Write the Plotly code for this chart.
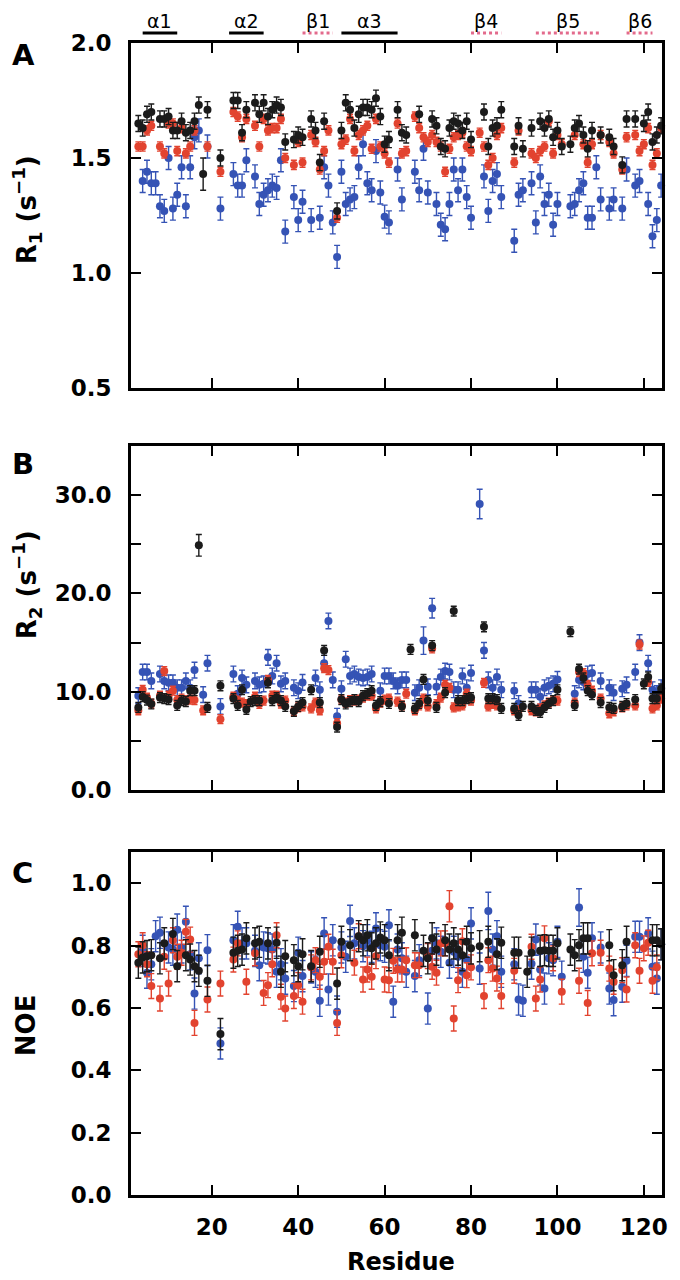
import plotly.graph_objects as go

# ---------------- data (residue, value) ----------------
R1_BLACK = [(3,1.65),(4,1.63),(5,1.69),(6,1.70),(8,1.67),(9,1.67),(10,1.68),(11,1.62),(12,1.62),(13,1.66),
            (14,1.61),(15,1.62),(16,1.66),(17,1.73),(18,1.43),(19,1.71),(22,1.50),(25,1.75),(26,1.75),(27,1.61),
            (28,1.71),(30,1.74),(31,1.69),(32,1.74),(33,1.68),(34,1.71),(35,1.73),(36,1.72),(37,1.57),(39,1.58),
            (40,1.60),(41,1.59),(43,1.67),(44,1.62),(45,1.48),(46,1.66),(49,1.27),(50,1.62),(51,1.74),(52,1.71),
            (53,1.63),(54,1.69),(55,1.72),(56,1.72),(57,1.71),(58,1.76),(59,1.68),(60,1.56),(61,1.58),(63,1.71),
            (64,1.61),(65,1.60),(68,1.69),(71,1.67),(72,1.64),(73,1.55),(74,1.54),(75,1.63),(76,1.66),(77,1.65),
            (78,1.62),(79,1.66),(80,1.58),(83,1.70),(84,1.55),(85,1.63),(86,1.64),(87,1.71),(90,1.55),(91,1.64),
            (92,1.54),(94,1.63),(96,1.66),(97,1.63),(98,1.67),(99,1.59),(100,1.62),(101,1.55),(103,1.56),(104,1.63),
            (105,1.65),(106,1.60),(107,1.54),(108,1.62),(110,1.60),(112,1.59),(113,1.55),(115,1.47),(116,1.67),
            (118,1.67),(120,1.65),(121,1.70),(122,1.57),(123,1.60),(124,1.64)]
R1_RED = [(3,1.55),(4,1.55),(5,1.62),(6,1.64),(8,1.55),(9,1.52),(10,1.65),(11,1.65),(12,1.53),(13,1.63),
          (14,1.52),(15,1.55),(16,1.62),(19,1.55),(22,1.44),(25,1.70),(26,1.68),(27,1.59),(28,1.67),(30,1.64),
          (31,1.55),(32,1.67),(33,1.62),(34,1.63),(35,1.63),(36,1.67),(37,1.50),(39,1.47),(40,1.57),(41,1.48),
          (43,1.60),(44,1.57),(45,1.45),(46,1.53),(47,1.62),(49,1.24),(50,1.56),(51,1.58),(52,1.67),(53,1.53),
          (54,1.60),(55,1.62),(56,1.64),(57,1.54),(58,1.67),(59,1.55),(60,1.52),(61,1.48),(63,1.65),(64,1.52),
          (65,1.53),(67,1.68),(68,1.63),(69,1.59),(70,1.57),(71,1.60),(72,1.57),(73,1.55),(74,1.44),(75,1.54),
          (76,1.59),(77,1.60),(78,1.61),(79,1.55),(80,1.53),(82,1.61),(83,1.55),(84,1.47),(85,1.50),(86,1.60),
          (87,1.63),(90,1.48),(91,1.62),(94,1.52),(95,1.50),(96,1.53),(97,1.55),(98,1.66),(99,1.52),(100,1.60),
          (101,1.56),(104,1.60),(106,1.56),(107,1.48),(108,1.56),(110,1.60),(112,1.57),(113,1.52),(115,1.45),
          (116,1.59),(118,1.60),(119,1.53),(120,1.56),(121,1.63),(122,1.47),(123,1.52),(124,1.63)]
R1_BLUE = [(4,1.40),(5,1.44),(6,1.39),(7,1.39),(8,1.29),(9,1.27),(10,1.50),(11,1.28),(12,1.34),(13,1.46),
           (14,1.29),(15,1.46),(16,1.59),(17,1.62),(19,1.55),(22,1.28),(25,1.43),(26,1.38),(27,1.38),(28,1.49),
           (30,1.42),(31,1.30),(32,1.34),(33,1.36),(34,1.38),(35,1.37),(36,1.49),(37,1.18),(39,1.33),(40,1.23),
           (41,1.31),(43,1.23),(45,1.24),(46,1.46),(47,1.38),(48,1.22),(49,1.07),(50,1.44),(51,1.30),(52,1.32),
           (53,1.33),(54,1.46),(55,1.56),(56,1.39),(57,1.36),(58,1.53),(59,1.35),(60,1.245),(61,1.22),(63,1.45),
           (64,1.32),(67,1.44),(68,1.36),(69,1.54),(70,1.35),(72,1.30),(73,1.21),(74,1.19),(75,1.30),(76,1.45),
           (77,1.36),(78,1.45),(79,1.33),(80,1.24),(83,1.42),(84,1.27),(85,1.40),(86,1.43),(87,1.33),(90,1.14),
           (91,1.34),(92,1.36),(94,1.39),(95,1.22),(96,1.42),(97,1.30),(98,1.34),(99,1.21),(100,1.30),(103,1.29),
           (104,1.30),(105,1.36),(106,1.39),(107,1.24),(108,1.24),(109,1.46),(110,1.32),(112,1.28),(113,1.32),
           (115,1.28),(116,1.45),(118,1.38),(119,1.40),(121,1.30),(122,1.16),(123,1.23),(124,1.38)]

R2_BLACK = [(3,8.4),(4,9.5),(5,9.15),(6,8.75),(8,9.4),(9,9.3),(10,9.2),(12,8.6),(13,9.1),(14,9.0),(15,10.1),
            (16,10.1),(17,24.9),(19,8.4),(22,10.6),(25,9.3),(26,8.6),(27,10.2),(28,8.2),(29,9.0),(30,9.1),(31,9.1),
            (33,10.9),(34,9.1),(35,9.4),(36,9.1),(37,8.5),(39,8.0),(40,8.5),(41,8.9),(43,10.2),(45,8.9),(46,14.2),
            (49,6.4),(50,9.2),(51,8.75),(52,9.0),(53,9.2),(54,9.0),(55,9.6),(56,9.8),(57,10.1),(58,8.6),(59,9.0),
            (61,8.8),(64,8.5),(66,14.3),(67,8.3),(68,8.8),(69,11.25),(70,9.1),(71,14.7),(72,8.4),(74,9.9),(76,18.2),
            (77,9.1),(78,9.1),(79,9.3),(80,9.4),(83,16.6),(84,9.3),(85,9.3),(86,9.2),(87,8.3),(90,8.3),(91,7.6),
            (92,8.5),(94,8.5),(95,8.1),(96,7.9),(97,8.4),(98,8.8),(99,9.1),(100,10.2),(103,16.1),(104,8.6),
            (105,12.3),(106,11.4),(107,10.1),(108,9.7),(110,8.9),(112,8.4),(113,8.3),(115,8.5),(116,8.8),(118,9.2),
            (120,10.8),(121,11.5),(122,9.3),(123,9.3),(124,10.3)]
R2_RED = [(3,8.1),(4,10.2),(5,9.4),(6,8.8),(8,9.6),(9,12.1),(10,9.6),(11,10.1),(12,9.15),(13,9.3),(14,9.15),
          (15,9.2),(16,9.15),(18,8.1),(22,7.2),(25,9.5),(26,9.1),(27,8.9),(28,8.75),(30,9.5),(31,8.75),(32,9.1),
          (33,11.2),(34,9.6),(35,9.6),(36,8.8),(37,9.1),(39,8.0),(40,8.4),(41,8.5),(43,8.3),(44,8.9),(45,8.1),
          (46,12.4),(47,12.2),(49,6.8),(50,9.2),(51,8.9),(52,9.15),(53,9.1),(54,9.2),(55,9.4),(56,9.6),(57,9.6),
          (58,8.3),(59,8.9),(60,9.2),(61,9.3),(63,9.0),(64,8.6),(65,9.8),(67,8.1),(68,8.6),(69,9.3),(70,8.5),
          (71,14.4),(72,8.75),(73,9.4),(74,10.7),(75,10.4),(76,8.4),(77,8.5),(78,8.6),(79,9.8),(80,9.1),(83,10.9),
          (84,8.5),(85,8.75),(86,8.6),(90,8.1),(91,8.1),(94,8.1),(95,8.0),(96,8.3),(97,8.6),(98,8.9),(99,9.1),
          (100,9.1),(104,8.9),(105,12.0),(106,11.9),(107,10.7),(108,10.1),(110,9.3),(112,7.8),(113,8.0),(115,8.4),
          (116,8.6),(118,8.6),(119,14.8),(121,11.0),(122,8.3),(123,8.6),(124,9.3)]
R2_BLUE = [(3,9.6),(4,12.0),(5,12.0),(6,11.1),(8,11.8),(9,11.1),(10,10.9),(11,10.9),(12,10.4),(13,10.4),
           (14,11.1),(15,10.4),(16,12.2),(18,9.7),(19,12.9),(22,8.5),(25,11.8),(26,9.8),(27,11.4),(28,10.7),
           (30,11.1),(31,10.7),(32,10.8),(33,13.5),(34,11.6),(35,12.9),(36,10.8),(37,11.1),(39,10.4),(40,10.1),
           (41,10.95),(44,11.4),(45,10.2),(46,12.9),(47,17.2),(48,11.2),(49,7.5),(50,10.3),(51,13.3),(52,11.6),
           (53,11.8),(54,11.5),(55,11.4),(56,11.5),(57,11.8),(59,10.1),(60,11.6),(61,11.6),(62,11.1),(63,10.6),
           (64,11.2),(65,11.2),(67,9.9),(68,10.4),(69,15.2),(70,10.5),(71,18.5),(72,10.5),(73,11.5),(74,12.1),
           (75,12.0),(76,10.2),(77,10.2),(78,11.6),(79,10.4),(80,11.9),(82,29.1),(83,14.2),(84,11.2),(85,10.4),
           (86,11.5),(87,10.2),(90,10.1),(91,8.8),(94,10.2),(95,10.2),(96,9.5),(97,10.4),(98,10.6),(99,10.8),
           (100,11.25),(104,9.8),(105,11.2),(106,11.0),(107,11.8),(108,11.9),(110,11.1),(112,10.4),(113,9.9),
           (115,10.3),(116,10.7),(118,12.0),(119,15.0),(121,12.9),(122,10.2),(123,9.8),(124,10.4)]

NOE_BLACK = [(3,0.745),(4,0.762),(5,0.766),(6,0.769),(8,0.759),(9,0.807),(11,0.837),(12,0.734),(14,0.769),
             (15,0.755),(16,0.734),(17,0.719),(19,0.687),(22,0.516),(25,0.777),(26,0.783),(27,0.787),(28,0.823),
             (30,0.807),(31,0.812),(33,0.807),(35,0.809),(36,0.716),(37,0.766),(39,0.753),(40,0.734),(41,0.772),
             (43,0.734),(45,0.780),(49,0.678),(50,0.812),(52,0.801),(54,0.830),(55,0.817),(56,0.833),(57,0.791),
             (58,0.807),(59,0.826),(60,0.817),(61,0.769),(63,0.817),(64,0.841),(67,0.833),(69,0.783),(70,0.759),
             (71,0.823),(72,0.787),(74,0.817),(75,0.787),(76,0.807),(77,0.787),(78,0.769),(79,0.812),(80,0.791),
             (82,0.798),(84,0.812),(86,0.772),(87,0.809),(90,0.777),(91,0.777),(93,0.716),(94,0.777),(96,0.783),
             (97,0.785),(98,0.783),(99,0.783),(100,0.807),(103,0.787),(104,0.769),(105,0.801),(106,0.823),
             (107,0.823),(112,0.801),(113,0.705),(115,0.737),(116,0.812),(122,0.817),(123,0.817),(124,0.804)]
NOE_RED = [(3,0.772),(4,0.801),(5,0.740),(6,0.670),(8,0.630),(9,0.764),(10,0.678),(11,0.817),(12,0.764),
           (13,0.777),(14,0.844),(15,0.819),(16,0.552),(19,0.627),(22,0.678),(25,0.755),(26,0.807),(28,0.684),
           (30,0.775),(32,0.648),(33,0.673),(34,0.740),(35,0.833),(36,0.636),(37,0.598),(39,0.638),(40,0.673),
           (41,0.620),(43,0.730),(44,0.753),(45,0.700),(46,0.748),(47,0.796),(48,0.748),(49,0.552),(50,0.769),
           (53,0.745),(54,0.830),(55,0.691),(56,0.723),(57,0.700),(58,0.766),(60,0.691),(61,0.689),(62,0.751),
           (63,0.723),(64,0.723),(65,0.753),(67,0.737),(68,0.737),(70,0.766),(71,0.732),(72,0.713),(73,0.807),
           (74,0.807),(75,0.926),(76,0.566),(77,0.689),(78,0.814),(79,0.705),(80,0.730),(83,0.638),(84,0.753),
           (85,0.726),(86,0.694),(87,0.638),(90,0.719),(94,0.796),(95,0.630),(96,0.691),(97,0.823),(99,0.759),
           (101,0.652),(105,0.687),(107,0.616),(108,0.775),(110,0.777),(112,0.726),(113,0.684),(115,0.721),
           (116,0.659),(118,0.801),(119,0.719),(120,0.791),(121,0.809),(122,0.687),(123,0.730)]
NOE_BLUE = [(4,0.783),(5,0.713),(6,0.740),(7,0.830),(8,0.841),(10,0.794),(11,0.787),(12,0.851),(13,0.794),
            (14,0.876),(15,0.772),(16,0.646),(17,0.759),(19,0.785),(22,0.486),(25,0.817),(26,0.860),(27,0.807),
            (28,0.807),(30,0.783),(31,0.737),(32,0.794),(33,0.791),(34,0.787),(35,0.716),(36,0.740),(37,0.694),
            (39,0.670),(40,0.777),(41,0.702),(43,0.730),(44,0.716),(45,0.623),(46,0.839),(47,0.659),(48,0.817),
            (49,0.588),(50,0.794),(51,0.764),(52,0.879),(53,0.807),(55,0.798),(56,0.817),(57,0.796),(58,0.855),
            (59,0.801),(60,0.796),(61,0.865),(62,0.620),(63,0.787),(64,0.759),(65,0.716),(67,0.702),(68,0.753),
            (70,0.598),(71,0.783),(72,0.807),(73,0.780),(75,0.745),(76,0.780),(77,0.764),(78,0.716),(79,0.755),
            (80,0.871),(82,0.726),(84,0.911),(85,0.787),(86,0.830),(87,0.716),(90,0.740),(91,0.627),(92,0.623),
            (94,0.742),(95,0.819),(96,0.723),(97,0.662),(98,0.759),(99,0.753),(100,0.812),(101,0.700),(105,0.922),
            (106,0.764),(107,0.713),(108,0.823),(110,0.794),(112,0.662),(113,0.625),(115,0.668),(116,0.751),
            (118,0.828),(119,0.828),(121,0.839),(122,0.732),(123,0.694),(124,0.804)]

# typical error-bar half-widths per series and panel
ERR_R1 = {"black": 0.035, "red": 0.02, "blue": 0.05}
ERR_R2 = {"black": 0.5, "red": 0.45, "blue": 0.8}
ERR_NOE = {"black": 0.05, "red": 0.04, "blue": 0.05}
ERR_OVERRIDE = {("R2", "black", 17): 1.1, ("R2", "blue", 82): 1.5, ("R2", "blue", 71): 1.0,
                ("R2", "blue", 69): 1.4, ("R1", "black", 18): 0.07, ("NOE", "blue", 84): 0.06,
                ("NOE", "blue", 105): 0.06, ("NOE", "red", 75): 0.05}

# secondary structure
SS_LABELS = ["α1", "α2", "β1", "α3", "β4", "β5", "β6"]
SS_START = [4, 24, 41, 50, 80, 95, 116]
SS_END = [12, 32, 48, 63, 87, 110, 122]
SS_KIND = ["helix", "helix", "strand", "helix", "strand", "strand", "strand"]

X_TICKS = [20, 40, 60, 80, 100, 120]
R1_TICKS = [0.5, 1.0, 1.5, 2.0]
R2_TICKS = [0, 10, 20, 30]
R2_MINOR = [5, 15, 25]
NOE_TICKS = [0.0, 0.2, 0.4, 0.6, 0.8, 1.0]

# ---------------- style ----------------
COLORS = {"black": "#1b1b1b", "red": "#e2432f", "blue": "#3553b5"}
PINK = "#e36a8c"
OFF = 8                      # browser page margin
W, H = 680 - OFF, 1280 - OFF
L, R, T, B = 131 - OFF, 12, 43 - OFF, 85
PH = H - T - B
PW = W - L - R

def py(p):  # reference pixel y -> paper
    return (H - B - (p - OFF)) / PH

def px(p):  # reference pixel x -> paper
    return ((p - OFF) - L) / PW

fig = go.Figure()

panels = [("R1", {"black": R1_BLACK, "red": R1_RED, "blue": R1_BLUE}, ERR_R1, "x", "y"),
          ("R2", {"black": R2_BLACK, "red": R2_RED, "blue": R2_BLUE}, ERR_R2, "x2", "y2"),
          ("NOE", {"black": NOE_BLACK, "red": NOE_RED, "blue": NOE_BLUE}, ERR_NOE, "x3", "y3")]

for name, series, errs, xa, ya in panels:
    for key in ["blue", "red", "black"]:
        pts = series[key]
        xs = [p[0] for p in pts]
        ys = [p[1] for p in pts]
        es = [ERR_OVERRIDE.get((name, key, r), errs[key]) for r in xs]
        fig.add_trace(go.Scatter(
            x=xs, y=ys, mode="markers", xaxis=xa, yaxis=ya, showlegend=False,
            marker=dict(color=COLORS[key], size=8, line=dict(width=0)),
            error_y=dict(type="data", array=es, color=COLORS[key], thickness=1.4, width=3),
            cliponaxis=False))

tickfont = dict(family="DejaVu Sans", size=23, color="black", weight="bold")
xcommon = dict(range=[1.3, 124.2], tickvals=X_TICKS, ticks="inside", ticklen=10, tickwidth=2,
               tickcolor="black", showline=True, linewidth=3, linecolor="black", mirror="ticks",
               showgrid=False, zeroline=False, tickfont=tickfont)
ycommon = dict(ticks="inside", ticklen=10, tickwidth=2, tickcolor="black", showline=True,
               linewidth=3, linecolor="black", mirror="ticks", showgrid=False, zeroline=False,
               tickfont=tickfont, ticklabelstandoff=12)

fig.update_layout(
    width=W, height=H, margin=dict(l=L, r=R, t=T, b=B),
    plot_bgcolor="white", paper_bgcolor="white",
    xaxis=dict(xcommon, anchor="y", showticklabels=False),
    xaxis2=dict(xcommon, anchor="y2", matches="x", showticklabels=False),
    xaxis3=dict(xcommon, anchor="y3", matches="x", showticklabels=True, ticklabelstandoff=9),
    yaxis=dict(ycommon, domain=[py(388), py(43)], range=[0.5, 2.0], tickvals=R1_TICKS,
               ticktext=["0.5", "1.0", "1.5", "2.0"], anchor="x"),
    yaxis2=dict(ycommon, domain=[py(790), py(446)], range=[0, 35], tickvals=R2_TICKS,
                ticktext=["0.0", "10.0", "20.0", "30.0"], anchor="x2",
                minor=dict(tickvals=R2_MINOR, ticks="inside", ticklen=10, tickwidth=2,
                           tickcolor="black", showgrid=False)),
    yaxis3=dict(ycommon, domain=[0, py(852)], range=[0, 1.1], tickvals=NOE_TICKS,
                ticktext=["0.0", "0.2", "0.4", "0.6", "0.8", "1.0"], anchor="x3"),
)

ann = []
# panel letters
for letter, ypix in [("A", 55), ("B", 464), ("C", 873)]:
    ann.append(dict(text=letter, xref="paper", yref="paper", x=px(9), y=py(ypix), xanchor="left",
                    yanchor="middle", showarrow=False,
                    font=dict(family="DejaVu Sans", size=29, color="black", weight="bold")))
# y titles
titlefont = dict(family="DejaVu Sans", size=26, color="black", weight="bold")
for txt, ypix in [("R<sub>1</sub> (s<sup>−1</sup>)", 210), ("R<sub>2</sub> (s<sup>−1</sup>)", 585),
                  ("NOE", 1025)]:
    ann.append(dict(text=txt, xref="paper", yref="paper", x=px(25), y=py(ypix), xanchor="center",
                    yanchor="middle", textangle=-90, showarrow=False, font=titlefont))
# x title
ann.append(dict(text="Residue", xref="paper", yref="paper", x=px(404), y=py(1262), xanchor="center",
                yanchor="middle", showarrow=False,
                font=dict(family="DejaVu Sans", size=24, color="black", weight="bold")))

shapes = []
for lab, s, e, k in zip(SS_LABELS, SS_START, SS_END, SS_KIND):
    ann.append(dict(text=lab, xref="x", yref="paper", x=(s + e) / 2, y=py(21), xanchor="center",
                    yanchor="middle", showarrow=False,
                    font=dict(family="DejaVu Sans", size=19, color="black")))
    shapes.append(dict(type="line", xref="x", yref="paper", x0=s, x1=e, y0=py(33), y1=py(33),
                       line=dict(color="black" if k == "helix" else PINK, width=3,
                                 dash="solid" if k == "helix" else "dot")))

fig.update_layout(annotations=ann, shapes=shapes)
fig.write_html("out.html")
